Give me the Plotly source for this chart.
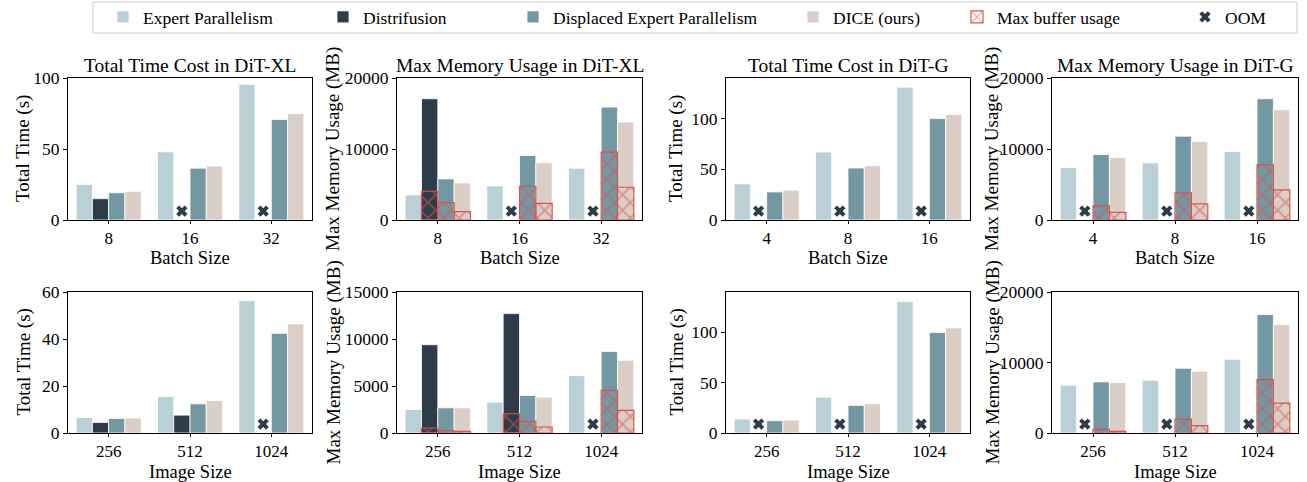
import numpy as np
import plotly.graph_objects as go
from plotly.subplots import make_subplots

# ---------------- data ----------------
methods = ["Expert Parallelism", "Distrifusion", "Displaced Expert Parallelism", "DICE (ours)"]
cats_bs_xl = ["8", "16", "32"]
cats_bs_g = ["4", "8", "16"]
cats_img = ["256", "512", "1024"]

# DiT-XL, batch size
xl_bs_time_ep = [25, 48, 95.5]
xl_bs_time_df = [15, None, None]
xl_bs_time_dep = [19.2, 36.5, 70.8]
xl_bs_time_dice = [20.2, 38, 74.8]

xl_bs_mem_ep = [3530, 4800, 7290]
xl_bs_mem_df = [17080, None, None]
xl_bs_mem_dep = [5790, 9080, 15900]
xl_bs_mem_dice = [5220, 8050, 13790]
xl_bs_buf_df = [4050, None, None]
xl_bs_buf_dep = [2450, 4750, 9550]
xl_bs_buf_dice = [1180, 2350, 4610]

# DiT-G, batch size
g_bs_time_ep = [35.6, 67, 131]
g_bs_time_df = [None, None, None]
g_bs_time_dep = [27.7, 51.2, 100]
g_bs_time_dice = [29.4, 53.5, 104]

g_bs_mem_ep = [7390, 8050, 9650]
g_bs_mem_df = [None, None, None]
g_bs_mem_dep = [9220, 11810, 17080]
g_bs_mem_dice = [8800, 11060, 15530]
g_bs_buf_df = [None, None, None]
g_bs_buf_dep = [1980, 3810, 7760]
g_bs_buf_dice = [1080, 2260, 4240]

# DiT-XL, image size
xl_img_time_ep = [6.6, 15.5, 56.3]
xl_img_time_df = [4.5, 7.6, None]
xl_img_time_dep = [6.2, 12.4, 42.4]
xl_img_time_dice = [6.35, 13.8, 46.4]

xl_img_mem_ep = [2500, 3280, 6100]
xl_img_mem_df = [9390, 12700, None]
xl_img_mem_dep = [2680, 3990, 8680]
xl_img_mem_dice = [2680, 3810, 7730]
xl_img_buf_df = [530, 2050, None]
xl_img_buf_dep = [250, 1240, 4550]
xl_img_buf_dice = [180, 640, 2400]

# DiT-G, image size
g_img_time_ep = [13.9, 35.6, 130.4]
g_img_time_df = [None, None, None]
g_img_time_dep = [12.2, 27.4, 99.7]
g_img_time_dice = [12.9, 29, 104.3]

g_img_mem_ep = [6780, 7480, 10450]
g_img_mem_df = [None, None, None]
g_img_mem_dep = [7250, 9180, 16800]
g_img_mem_dice = [7150, 8750, 15390]
g_img_buf_df = [None, None, None]
g_img_buf_dep = [520, 1980, 7580]
g_img_buf_dice = [240, 1040, 4240]

panels = [
    dict(cats=cats_bs_xl, vals=[xl_bs_time_ep, xl_bs_time_df, xl_bs_time_dep, xl_bs_time_dice], buf=None,
         ymax=100, dtick=50, title="Total Time Cost in DiT-XL", ytitle="Total Time (s)", xtitle="Batch Size"),
    dict(cats=cats_bs_xl, vals=[xl_bs_mem_ep, xl_bs_mem_df, xl_bs_mem_dep, xl_bs_mem_dice],
         buf=[xl_bs_buf_df, xl_bs_buf_dep, xl_bs_buf_dice],
         ymax=20000, dtick=10000, title="Max Memory Usage in DiT-XL", ytitle="Max Memory Usage (MB)", xtitle="Batch Size"),
    dict(cats=cats_bs_g, vals=[g_bs_time_ep, g_bs_time_df, g_bs_time_dep, g_bs_time_dice], buf=None,
         ymax=140, dtick=50, title="Total Time Cost in DiT-G", ytitle="Total Time (s)", xtitle="Batch Size"),
    dict(cats=cats_bs_g, vals=[g_bs_mem_ep, g_bs_mem_df, g_bs_mem_dep, g_bs_mem_dice],
         buf=[g_bs_buf_df, g_bs_buf_dep, g_bs_buf_dice],
         ymax=20000, dtick=10000, title="Max Memory Usage in DiT-G", ytitle="Max Memory Usage (MB)", xtitle="Batch Size"),
    dict(cats=cats_img, vals=[xl_img_time_ep, xl_img_time_df, xl_img_time_dep, xl_img_time_dice], buf=None,
         ymax=60, dtick=20, title=None, ytitle="Total Time (s)", xtitle="Image Size"),
    dict(cats=cats_img, vals=[xl_img_mem_ep, xl_img_mem_df, xl_img_mem_dep, xl_img_mem_dice],
         buf=[xl_img_buf_df, xl_img_buf_dep, xl_img_buf_dice],
         ymax=15000, dtick=5000, title=None, ytitle="Max Memory Usage (MB)", xtitle="Image Size"),
    dict(cats=cats_img, vals=[g_img_time_ep, g_img_time_df, g_img_time_dep, g_img_time_dice], buf=None,
         ymax=140, dtick=50, title=None, ytitle="Total Time (s)", xtitle="Image Size"),
    dict(cats=cats_img, vals=[g_img_mem_ep, g_img_mem_df, g_img_mem_dep, g_img_mem_dice],
         buf=[g_img_buf_df, g_img_buf_dep, g_img_buf_dice],
         ymax=20000, dtick=10000, title=None, ytitle="Max Memory Usage (MB)", xtitle="Image Size"),
]

# ---------------- style ----------------
colors = ["#b9d0d6", "#2e3c4a", "#7398a2", "#dacec6"]
red = "#d9534f"
oom_color = "#2e3c4a"
FONT = "Liberation Serif"
W, H = 1307, 482
offsets = [-0.3, -0.1, 0.1, 0.3]
bw = 0.2

def F(size):
    return dict(family=FONT, size=size, color="black")

# pixel layout of the axes boxes
xdom_px = [(68, 312), (397, 642), (726, 970), (1052, 1298)]
ydom_px = [(78, 220), (292, 433)]
ytitle_px = [23, 333, 676, 992]
xtitle_py = [258, 472]

fig = make_subplots(rows=2, cols=4)

for k, p in enumerate(panels):
    r, c = k // 4 + 1, k % 4 + 1
    pos = np.arange(len(p["cats"]))
    for i, (name, vals) in enumerate(zip(methods, p["vals"])):
        if all(v is None for v in vals):
            continue
        fig.add_trace(go.Bar(
            x=pos + offsets[i], y=vals, width=bw, name=name,
            marker=dict(color=colors[i], line=dict(color="white", width=0.8)),
            showlegend=(k == 0), legend=f"legend{'' if i == 0 else i + 1}",
        ), row=r, col=c)
    if p["buf"] is not None:
        for j, bvals in enumerate(p["buf"]):
            i = j + 1
            if all(v is None for v in bvals):
                continue
            fig.add_trace(go.Bar(
                x=pos + offsets[i], y=bvals, width=bw, name="Max buffer usage",
                marker=dict(color="rgba(0,0,0,0)", line=dict(color=red, width=1.2),
                            pattern=dict(shape="x", fgcolor=red, size=11, solidity=0.3, fillmode="overlay")),
                showlegend=(k == 1 and j == 0), legend="legend5",
            ), row=r, col=c)
    oom_x = [pos[n] + offsets[1] for n, v in enumerate(p["vals"][1]) if v is None]
    fig.add_trace(go.Scatter(
        x=oom_x, y=[p["ymax"] * 0.063] * len(oom_x), mode="markers", name="OOM",
        marker=dict(symbol="x", size=10, color=oom_color, line=dict(width=0)),
        showlegend=(k == 1), legend="legend6",
    ), row=r, col=c)

    xa = "xaxis" if k == 0 else f"xaxis{k + 1}"
    ya = "yaxis" if k == 0 else f"yaxis{k + 1}"
    x0, x1 = xdom_px[c - 1]
    y0, y1 = ydom_px[r - 1]
    fig.layout[xa].update(
        domain=[x0 / W, x1 / W], range=[-0.5, 2.5], tickvals=list(pos), ticktext=p["cats"],
        showline=True, mirror=True, linecolor="black", linewidth=1, ticks="outside", ticklen=3,
        tickcolor="black", showgrid=False, zeroline=False, tickfont=F(17),
    )
    fig.layout[ya].update(
        domain=[1 - y1 / H, 1 - y0 / H], range=[0, p["ymax"]], dtick=p["dtick"], tick0=0,
        tickformat="d", showline=True, mirror=True, linecolor="black", linewidth=1, ticks="outside",
        ticklen=4, tickcolor="black", showgrid=False, zeroline=False, tickfont=F(17.5),
    )
    if p["title"]:
        fig.add_annotation(text=p["title"], x=(x0 + x1) / 2 / W, y=1 - y0 / H, xref="paper", yref="paper",
                           xanchor="center", yanchor="bottom", yshift=0, showarrow=False, font=F(19.5))
    fig.add_annotation(text=p["ytitle"], x=ytitle_px[c - 1] / W, y=1 - (y0 + y1) / 2 / H,
                       xref="paper", yref="paper", xanchor="center", yanchor="middle", textangle=-90,
                       showarrow=False, font=F(19))
    fig.add_annotation(text=p["xtitle"], x=(x0 + x1) / 2 / W, y=1 - xtitle_py[r - 1] / H,
                       xref="paper", yref="paper", xanchor="center", yanchor="middle",
                       showarrow=False, font=F(18.5))

# legends: one per item for exact placement
text_starts = [143, 363, 553, 833, 997, 1225]
leg_common = dict(orientation="v", yanchor="top", xanchor="left", y=1 + 1 / H,
                  bgcolor="rgba(0,0,0,0)", borderwidth=0, font=F(17.5))
legends = {}
for n, ts in enumerate(text_starts):
    key = "legend" if n == 0 else f"legend{n + 1}"
    legends[key] = dict(leg_common, x=(ts - 40) / W)
fig.update_layout(**legends)

fig.add_shape(type="rect", xref="paper", yref="paper", x0=93 / W, x1=1297 / W, y0=1 - 33 / H, y1=1 - 2 / H,
              line=dict(color="#cccccc", width=1), fillcolor="rgba(0,0,0,0)")

fig.update_layout(
    width=W, height=H, margin=dict(l=0, r=0, t=0, b=0, autoexpand=False),
    paper_bgcolor="white", plot_bgcolor="white", barmode="overlay",
    font=F(16),
)

fig.write_html("out.html", config={"displayModeBar": False},
               post_script="document.body.style.margin='0';document.body.style.overflow='hidden';")
